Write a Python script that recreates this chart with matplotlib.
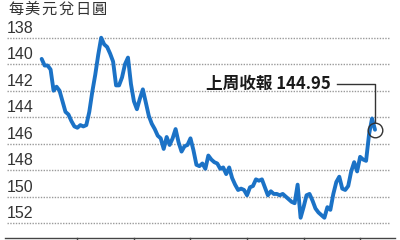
import matplotlib
matplotlib.use("Agg")
import matplotlib.pyplot as plt
import matplotlib.transforms as mtransforms

# 每美元兌日圓 (daily closes)
usd_jpy = [
    139.6, 140.1, 140.1, 140.4, 142.0, 141.7, 142.0, 142.8, 143.6, 143.8,
    144.3, 144.7, 144.8, 144.6, 144.7, 144.6, 143.6, 142.1, 140.8, 139.3,
    138.0, 138.5, 138.7, 139.2, 139.8, 141.6, 141.6, 141.0, 140.0, 139.5,
    141.5, 142.8, 143.4, 142.6, 141.9, 142.9, 143.9, 144.5, 144.9, 145.4,
    145.6, 146.4, 145.5, 146.1, 145.6, 144.9, 145.9, 146.6, 146.2, 146.1,
    145.6, 146.5, 147.6, 147.7, 147.5, 147.9, 146.9, 147.2, 147.4, 147.5,
    147.9, 147.8, 148.3, 147.8, 148.6, 149.1, 149.5, 149.4, 149.5, 149.9,
    149.3, 149.2, 148.7, 148.8, 148.7, 149.3, 149.9, 149.6, 149.8, 149.8,
    149.9, 149.8, 150.0, 150.2, 150.4, 150.5, 149.1, 151.6, 150.8, 149.9,
    149.8, 150.3, 150.9, 151.2, 151.4, 151.6, 150.8, 151.0, 149.8, 148.9,
    148.5, 149.4, 149.5, 149.2, 148.1, 147.4, 148.1, 147.0, 147.2, 147.3,
    145.3, 144.1, 144.95,
]
y_ticks = [138, 140, 142, 144, 146, 148, 150, 152]
month_starts = [12, 31, 50, 69, 88, 107]
title = "每美元兌日圓"
last_label = "上周收報 144.95"

blue = "#1b72c6"
dark = "#333333"

fig = plt.figure(figsize=(4, 2.4), dpi=100)
ax = fig.add_axes([0, 0, 1, 1])
ax.axis("off")
ax.set_xlim(-14.0, 120.4)
ax.set_ylim(153.28, 135.15)

x = list(range(len(usd_jpy)))

# dotted grid + labels sitting on top of each line
lab = mtransforms.blended_transform_factory(ax.transAxes, ax.transData)
for t in y_ticks:
    ax.axhline(t, xmin=7 / 400, xmax=390 / 400, color="#9a9a9a",
               lw=1.0, ls=(0, (1, 1)), zorder=1)
    ax.text(7 / 400, t - 0.15, str(t), transform=lab, ha="left", va="bottom",
            fontsize=11.5, color=dark, family="Liberation Sans")

# bottom axis with month ticks
ax.axhline(153.28 - 2 / 13.24, xmin=5 / 400, xmax=395 / 400,
           color="#444444", lw=1.0, zorder=2)
for m in month_starts:
    ax.plot([m, m], [153.28 - 2 / 13.24, 153.4], color="#444444", lw=1.0,
            clip_on=False)

ax.plot(x, usd_jpy, color=blue, lw=2.8, solid_joinstyle="round",
        solid_capstyle="round", zorder=3)

# title with wide letter spacing
for k, ch in enumerate(title):
    fig.text((8 + k * 16.7) / 400, 1 - 1 / 240, ch, ha="left", va="top",
             fontsize=11, color=dark, family="Noto Sans CJK TC")

# last close marker + leader line
xe, ye = x[-1], usd_jpy[-1]
ax.plot([xe], [ye], marker="o", ms=10.5, mfc="none", mec=dark, mew=1.0,
        zorder=4)
label_y = 141.5
ax.plot([99.2, xe, xe], [label_y, label_y, ye - 0.55], color=dark, lw=1.0,
        zorder=4)
ax.text(97.2, label_y, last_label, ha="right", va="center", fontsize=12,
        fontweight="bold", color="#1a1a1a",
        family=["Noto Sans CJK TC", "DejaVu Sans"])

fig.savefig("out.png", dpi=100, facecolor="white")
